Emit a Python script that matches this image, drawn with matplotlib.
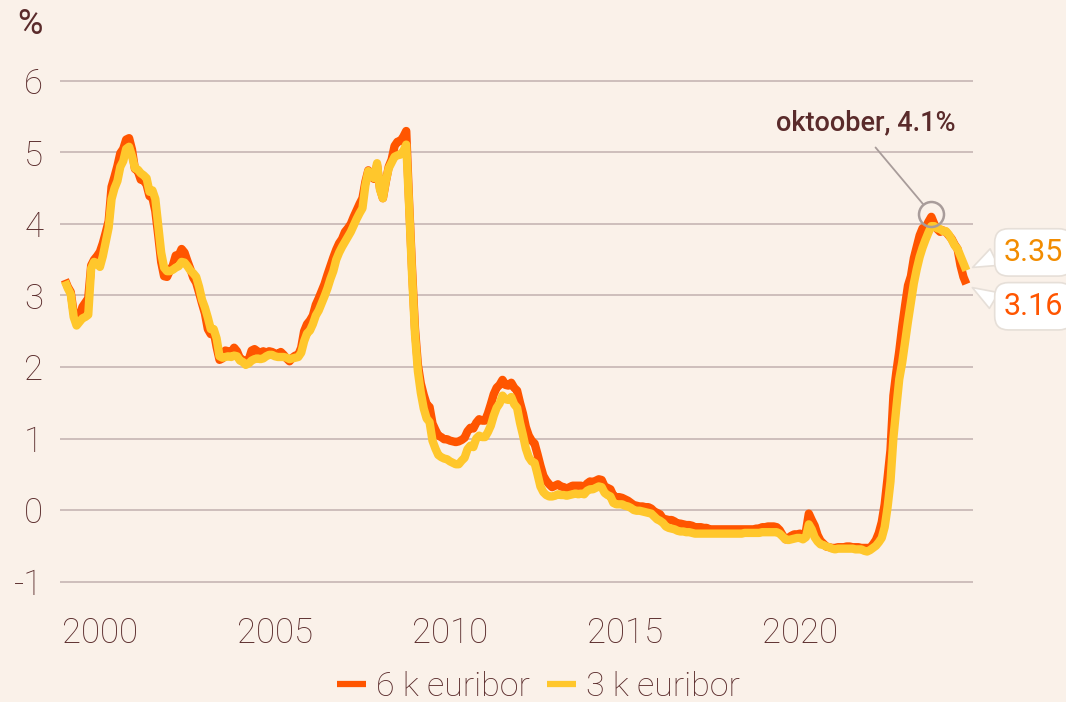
import matplotlib
matplotlib.use("Agg")
import matplotlib.pyplot as plt
import numpy as np

# ---------------- data (monthly, Jan 1999 .. Oct 2024) ----------------
start_year = 1999
euribor_6m = [
    3.22, 3.12, 3.05, 2.76, 2.63, 2.68, 2.84, 2.90, 2.96, 3.42, 3.50, 3.55,   # 1999
    3.61, 3.73, 3.88, 4.04, 4.52, 4.66, 4.81, 4.99, 5.05, 5.18, 5.20, 5.04,   # 2000
    4.77, 4.74, 4.62, 4.61, 4.55, 4.39, 4.37, 4.18, 3.84, 3.47, 3.27, 3.26,   # 2001
    3.35, 3.42, 3.56, 3.56, 3.65, 3.60, 3.48, 3.37, 3.25, 3.18, 3.04, 2.89,   # 2002
    2.75, 2.53, 2.46, 2.50, 2.28, 2.10, 2.12, 2.23, 2.22, 2.20, 2.27, 2.22,   # 2003
    2.12, 2.10, 2.04, 2.10, 2.23, 2.25, 2.22, 2.20, 2.22, 2.20, 2.22, 2.21,   # 2004
    2.19, 2.18, 2.21, 2.17, 2.12, 2.08, 2.13, 2.16, 2.17, 2.27, 2.50, 2.60,   # 2005
    2.65, 2.72, 2.87, 2.96, 3.06, 3.16, 3.29, 3.41, 3.53, 3.64, 3.73, 3.79,   # 2006
    3.89, 3.94, 4.00, 4.10, 4.19, 4.28, 4.36, 4.59, 4.75, 4.66, 4.63, 4.82,   # 2007
    4.50, 4.36, 4.59, 4.80, 4.90, 5.09, 5.15, 5.16, 5.22, 5.30, 4.29, 3.37,   # 2008
    2.54, 2.03, 1.77, 1.61, 1.48, 1.44, 1.21, 1.12, 1.04, 1.02, 0.99, 0.99,   # 2009
    0.97, 0.96, 0.95, 0.96, 0.98, 1.01, 1.10, 1.15, 1.14, 1.22, 1.27, 1.25,   # 2010
    1.25, 1.35, 1.48, 1.62, 1.71, 1.75, 1.82, 1.75, 1.74, 1.78, 1.71, 1.67,   # 2011
    1.50, 1.35, 1.16, 1.04, 0.97, 0.93, 0.78, 0.62, 0.48, 0.41, 0.36, 0.32,   # 2012
    0.34, 0.36, 0.33, 0.32, 0.30, 0.32, 0.34, 0.34, 0.34, 0.34, 0.32, 0.37,   # 2013
    0.40, 0.39, 0.41, 0.43, 0.42, 0.33, 0.31, 0.29, 0.20, 0.18, 0.18, 0.17,   # 2014
    0.15, 0.13, 0.10, 0.07, 0.06, 0.05, 0.05, 0.04, 0.04, 0.02, -0.02, -0.04, # 2015
    -0.06, -0.12, -0.13, -0.14, -0.14, -0.16, -0.19, -0.19, -0.20, -0.21, -0.21, -0.22,  # 2016
    -0.24, -0.24, -0.24, -0.25, -0.25, -0.27, -0.27, -0.27, -0.27, -0.27, -0.27, -0.27,  # 2017
    -0.27, -0.27, -0.27, -0.27, -0.27, -0.27, -0.27, -0.27, -0.27, -0.26, -0.26, -0.24,  # 2018
    -0.24, -0.23, -0.23, -0.23, -0.24, -0.28, -0.35, -0.41, -0.39, -0.36, -0.34, -0.34,  # 2019
    -0.33, -0.36, -0.30, -0.05, -0.14, -0.22, -0.35, -0.43, -0.47, -0.51, -0.52, -0.53,  # 2020
    -0.53, -0.52, -0.52, -0.52, -0.51, -0.51, -0.52, -0.52, -0.52, -0.53, -0.53, -0.53,  # 2021
    -0.53, -0.48, -0.42, -0.32, -0.17, 0.08, 0.45, 0.84, 1.60, 1.93, 2.22, 2.56,         # 2022
    2.86, 3.14, 3.27, 3.52, 3.68, 3.84, 3.94, 3.94, 4.03, 4.10, 4.00, 3.93,             # 2023
    3.89, 3.91, 3.89, 3.84, 3.79, 3.71, 3.65, 3.42, 3.26, 3.16,                         # 2024
]
euribor_3m = [
    3.20, 3.10, 3.02, 2.70, 2.58, 2.63, 2.68, 2.70, 2.73, 3.38, 3.47, 3.45,   # 1999
    3.40, 3.55, 3.75, 3.95, 4.35, 4.50, 4.60, 4.80, 4.88, 5.05, 5.08, 4.95,   # 2000
    4.78, 4.76, 4.71, 4.68, 4.64, 4.45, 4.47, 4.35, 3.98, 3.60, 3.39, 3.34,   # 2001
    3.34, 3.36, 3.39, 3.41, 3.47, 3.46, 3.41, 3.35, 3.31, 3.26, 3.12, 2.94,   # 2002
    2.83, 2.69, 2.53, 2.53, 2.40, 2.15, 2.13, 2.14, 2.15, 2.14, 2.16, 2.15,   # 2003
    2.09, 2.07, 2.03, 2.05, 2.09, 2.11, 2.12, 2.11, 2.12, 2.15, 2.17, 2.17,   # 2004
    2.15, 2.14, 2.14, 2.14, 2.13, 2.11, 2.12, 2.13, 2.14, 2.20, 2.36, 2.47,   # 2005
    2.51, 2.60, 2.72, 2.79, 2.89, 2.99, 3.10, 3.23, 3.34, 3.50, 3.60, 3.68,   # 2006
    3.75, 3.82, 3.89, 3.98, 4.07, 4.15, 4.22, 4.54, 4.74, 4.69, 4.64, 4.85,   # 2007
    4.48, 4.36, 4.60, 4.78, 4.86, 4.94, 4.96, 4.97, 5.02, 5.11, 4.24, 3.29,   # 2008
    2.46, 1.94, 1.64, 1.42, 1.28, 1.23, 0.97, 0.86, 0.77, 0.74, 0.72, 0.71,   # 2009
    0.68, 0.66, 0.64, 0.64, 0.69, 0.73, 0.85, 0.90, 0.88, 1.00, 1.04, 1.02,   # 2010
    1.02, 1.09, 1.18, 1.32, 1.43, 1.49, 1.60, 1.55, 1.54, 1.58, 1.48, 1.43,   # 2011
    1.22, 1.05, 0.86, 0.74, 0.68, 0.66, 0.50, 0.33, 0.25, 0.21, 0.19, 0.19,   # 2012
    0.20, 0.22, 0.21, 0.21, 0.20, 0.21, 0.22, 0.23, 0.22, 0.23, 0.22, 0.27,   # 2013
    0.29, 0.29, 0.31, 0.33, 0.32, 0.24, 0.21, 0.19, 0.10, 0.08, 0.08, 0.08,   # 2014
    0.06, 0.05, 0.03, 0.00, -0.01, -0.01, -0.02, -0.03, -0.04, -0.05, -0.09, -0.13,     # 2015
    -0.15, -0.18, -0.23, -0.25, -0.26, -0.27, -0.29, -0.30, -0.30, -0.31, -0.31, -0.32, # 2016
    -0.33, -0.33, -0.33, -0.33, -0.33, -0.33, -0.33, -0.33, -0.33, -0.33, -0.33, -0.33, # 2017
    -0.33, -0.33, -0.33, -0.33, -0.33, -0.32, -0.32, -0.32, -0.32, -0.32, -0.32, -0.31, # 2018
    -0.31, -0.31, -0.31, -0.31, -0.31, -0.33, -0.37, -0.41, -0.42, -0.41, -0.40, -0.39, # 2019
    -0.39, -0.41, -0.38, -0.20, -0.27, -0.38, -0.44, -0.48, -0.49, -0.51, -0.52, -0.54, # 2020
    -0.55, -0.54, -0.54, -0.54, -0.54, -0.54, -0.54, -0.55, -0.55, -0.55, -0.57, -0.58, # 2021
    -0.56, -0.53, -0.50, -0.45, -0.39, -0.24, 0.04, 0.40, 1.01, 1.43, 1.83, 2.06,       # 2022
    2.35, 2.64, 2.91, 3.17, 3.37, 3.54, 3.67, 3.78, 3.88, 3.97, 3.97, 3.94,             # 2023
    3.93, 3.90, 3.90, 3.85, 3.78, 3.70, 3.65, 3.55, 3.45, 3.35,                         # 2024
]
series_labels = ["6 k euribor", "3 k euribor"]
x_ticks = [2000, 2005, 2010, 2015, 2020]
y_ticks = [-1, 0, 1, 2, 3, 4, 5, 6]
annot_text = "oktoober, 4.1%"
annot_month = "2023-10"
end_labels = ["3.35", "3.16"]

# ---------------- style ----------------
BG = "#FAF1E9"
TXT = "#5A2B2B"
GRID = "#C6B6B3"
ORANGE = "#FF5500"
YELLOW = "#FFC72C"
AMBER = "#F28C00"

plt.rcParams["font.family"] = ["Roboto", "DejaVu Sans"]
plt.rcParams["axes.unicode_minus"] = False

n = len(euribor_6m)
x = start_year + np.arange(n) / 12.0

fig = plt.figure(figsize=(10.66, 7.02), dpi=100, facecolor=BG)
H = 702.0
W = 1066.0
ax = fig.add_axes([60 / W, 1 - 603 / H, (973 - 60) / W, (603 - 59.5) / H])
ax.set_facecolor(BG)
ax.set_xlim(start_year - 0.14, start_year + 25.94)
ax.set_ylim(-1.3, 6.3)

for s in ax.spines.values():
    s.set_visible(False)
ax.set_yticks(y_ticks)
ax.set_yticklabels([str(v) for v in y_ticks])
ax.set_xticks(x_ticks)
ax.tick_params(axis="both", length=0, labelsize=25, labelcolor=TXT)
ax.tick_params(axis="y", pad=12)
ax.tick_params(axis="x", pad=10)
for lab in ax.get_xticklabels() + ax.get_yticklabels():
    lab.set_fontweight("light")
ax.grid(axis="y", color=GRID, lw=1.2)
ax.grid(axis="x", visible=False)
ax.set_axisbelow(True)

l6, = ax.plot(x, euribor_6m, color=ORANGE, lw=6, solid_joinstyle="round",
              solid_capstyle="butt", label=series_labels[0], zorder=3)
l3, = ax.plot(x, euribor_3m, color=YELLOW, lw=6, solid_joinstyle="round",
              solid_capstyle="butt", label=series_labels[1], zorder=4)

# "%" unit label
fig.text(17 / W, 1 - 24 / H, "%", fontsize=25, color=TXT, fontweight="normal",
         ha="left", va="center")

# annotation circle + text
ai = (int(annot_month[:4]) - start_year) * 12 + int(annot_month[5:]) - 1
ax.plot([x[ai]], [euribor_6m[ai] + 0.04], marker="o", ms=18, mfc="none",
        mec="#A89C9A", mew=1.8, zorder=6)
ax.annotate(annot_text, xy=(x[ai], euribor_6m[ai] + 0.04), xytext=(-47, 56),
            textcoords="offset points", ha="center", va="bottom",
            fontsize=19.5, fontweight="medium", color=TXT,
            arrowprops=dict(arrowstyle="-", color="#A89C9A", lw=1.3,
                            shrinkA=8, shrinkB=9, relpos=(0.5, 0)),
            zorder=7)

# end-value callouts
callouts = [(euribor_3m[-1], end_labels[0], AMBER, 13),
            (euribor_6m[-1], end_labels[1], ORANGE, -16)]
for val, txt, col, dy in callouts:
    ax.annotate(txt, xy=(x[-1], val), xytext=(27, dy),
                textcoords="offset points", ha="left", va="center",
                fontsize=22, color=col, annotation_clip=False,
                bbox=dict(boxstyle="round,pad=0.3,rounding_size=0.45",
                          fc="white", ec="#E6DFD8", lw=1.2),
                arrowprops=dict(arrowstyle="wedge,tail_width=0.6,shrink_factor=0.5",
                                fc="white", ec="#E6DFD8", lw=1.2,
                                shrinkA=0, shrinkB=5, relpos=(0.0, 0.5)),
                zorder=8)

leg = fig.legend(handles=[l6, l3], labels=series_labels, loc="center",
                 bbox_to_anchor=(0.505, 1 - 687 / H), ncol=2, frameon=False,
                 fontsize=24.5, handlelength=0.85, handletextpad=0.3,
                 columnspacing=0.5, labelcolor=TXT)
for t in leg.get_texts():
    t.set_fontweight("light")
for h in leg.legend_handles:
    h.set_linewidth(4.5)

fig.savefig("out.png", dpi=100, facecolor=BG)
